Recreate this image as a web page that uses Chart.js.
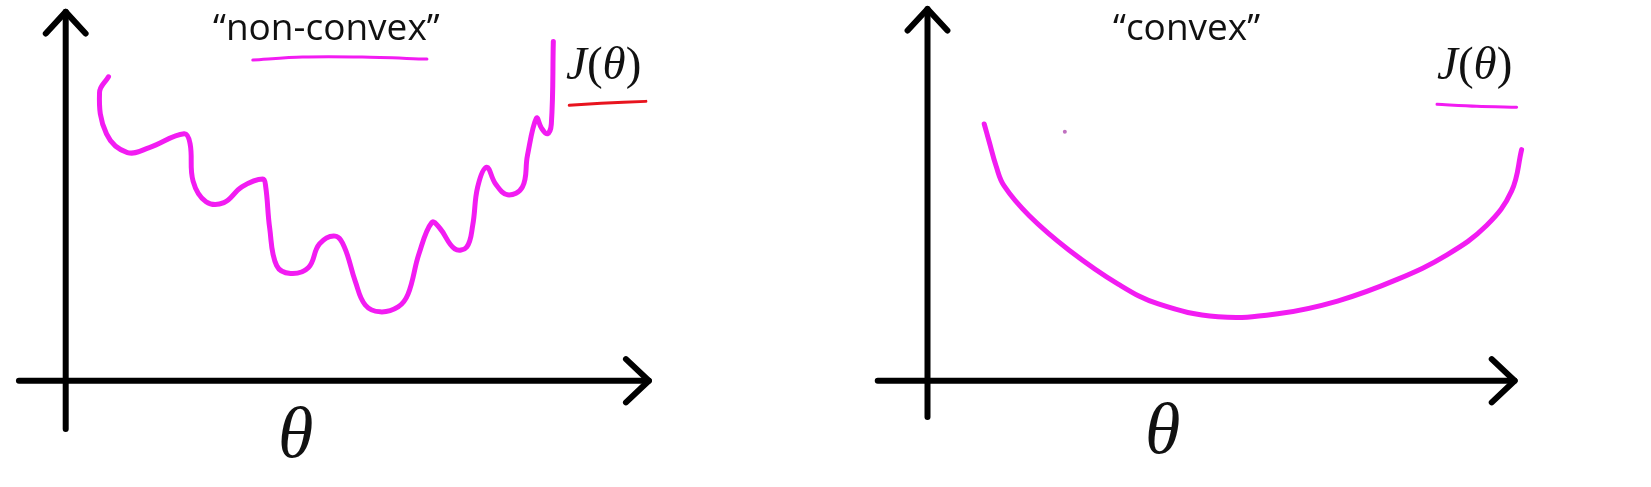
<!DOCTYPE html>
<html>
<head>
<meta charset="utf-8">
<script src="https://cdn.jsdelivr.net/npm/chart.js@4"></script>
<style>
  html, body { margin: 0; padding: 0; background: #fff; }
  #wrap { position: relative; width: 1651px; height: 487px; overflow: hidden; }
  .lbl { position: absolute; white-space: nowrap; color: #111; }
  .title { font-family: "Open Sans", sans-serif; font-size: 37px; }
  .math { font-family: "Liberation Serif", "DejaVu Serif", serif; }
</style>
</head>
<body>
<div id="wrap">
  <canvas id="sketch"></canvas>
  <div class="lbl title" style="left:213px; top:0px;">“non-convex”</div>
  <div class="lbl title" style="left:1113px; top:0px;">“convex”</div>
  <div class="lbl math" style="left:566px; top:36px; font-size:47px;"><i>J</i>(<i>θ</i>)</div>
  <div class="lbl math" style="left:1437px; top:36px; font-size:47px;"><i>J</i>(<i>θ</i>)</div>
  <div class="lbl math" style="left:278px; top:392px; font-size:72px;"><i>θ</i></div>
  <div class="lbl math" style="left:1145px; top:388px; font-size:72px;"><i>θ</i></div>
</div>
<script>
// curves, in picture units (x right, y down)
const nonConvexX = [105, 96, 103, 124, 146, 181, 187, 190, 203, 221, 239, 260, 263, 267, 274, 288, 306, 317, 333, 342, 353, 363, 378, 396, 406, 417, 430, 438, 453, 465, 471, 476, 485, 494, 506, 521, 526, 535, 540, 546, 550, 552];
const nonConvexY = [74, 90, 132, 151, 146, 132, 142, 180, 201, 202, 186, 178, 186, 228, 266, 274, 268, 244, 236, 247, 282, 306, 313, 308, 295, 254, 222, 228, 249, 247, 225, 186, 166, 183, 194, 186, 154, 116, 126, 132, 122, 38];

const convexX = [985, 990, 997, 1005, 1030, 1070, 1120, 1160, 1220, 1280, 1340, 1400, 1450, 1490, 1515, 1525];
const convexY = [122, 140, 165, 185, 215, 250, 285, 305, 318, 315, 302, 280, 255, 225, 190, 148];

// underline strokes under the labels
const underNonConvexX = [250, 300, 360, 425];
const underNonConvexY = [57, 54, 54, 56];
const underJLeftX = [568, 600, 645];
const underJLeftY = [103, 101, 99];
const underJRightX = [1440, 1480, 1520];
const underJRightY = [102, 104, 105];

// axes with arrowheads
const leftXAxisX = [15, 648];
const leftXAxisY = [383, 383];
const leftXArrowX = [625, 648, 625];
const leftXArrowY = [361, 383, 405];
const leftYAxisX = [62, 62];
const leftYAxisY = [432, 8];
const leftYArrowX = [42, 62, 82];
const leftYArrowY = [30, 8, 30];

const rightXAxisX = [878, 1518];
const rightXAxisY = [383, 383];
const rightXArrowX = [1495, 1518, 1495];
const rightXArrowY = [361, 383, 405];
const rightYAxisX = [928, 928];
const rightYAxisY = [420, 5];
const rightYArrowX = [908, 928, 948];
const rightYArrowY = [27, 5, 27];

const strayDotX = [1066];
const strayDotY = [130];

const pts = (xs, ys) => xs.map((x, i) => ({ x: x, y: ys[i] }));

function stroke(xs, ys, color, width, tension) {
    return {
        data: pts(xs, ys),
        showLine: true,
        borderColor: color,
        borderWidth: width,
        pointRadius: 0,
        tension: tension,
        borderCapStyle: 'round',
        borderJoinStyle: 'round',
        fill: false,
    };
}

const magenta = '#f21cf2';
const black = '#000';

const ctx = document.getElementById('sketch').getContext('2d');
new Chart(ctx, {
    type: 'scatter',
    data: {
        datasets: [
            stroke(nonConvexX, nonConvexY, magenta, 5, 0.4),
            stroke(convexX, convexY, magenta, 5, 0.4),
            stroke(underNonConvexX, underNonConvexY, magenta, 3, 0.3),
            stroke(underJLeftX, underJLeftY, '#e8141e', 3, 0.3),
            stroke(underJRightX, underJRightY, magenta, 3, 0.3),
            stroke(leftXAxisX, leftXAxisY, black, 6, 0),
            stroke(leftXArrowX, leftXArrowY, black, 6, 0),
            stroke(leftYAxisX, leftYAxisY, black, 6, 0),
            stroke(leftYArrowX, leftYArrowY, black, 6, 0),
            stroke(rightXAxisX, rightXAxisY, black, 6, 0),
            stroke(rightXArrowX, rightXArrowY, black, 6, 0),
            stroke(rightYAxisX, rightYAxisY, black, 6, 0),
            stroke(rightYArrowX, rightYArrowY, black, 6, 0),
            {
                data: pts(strayDotX, strayDotY),
                pointRadius: 2,
                pointBackgroundColor: '#c070c0',
                pointBorderWidth: 0,
            },
        ]
    },
    options: {
        responsive: true,
        maintainAspectRatio: false,
        animation: false,
        layout: { padding: 0 },
        plugins: { legend: { display: false }, tooltip: { enabled: false } },
        scales: {
            x: { type: 'linear', min: 0, max: 1651, display: false },
            y: { type: 'linear', min: 0, max: 487, reverse: true, display: false }
        }
    }
});
</script>
</body>
</html>
